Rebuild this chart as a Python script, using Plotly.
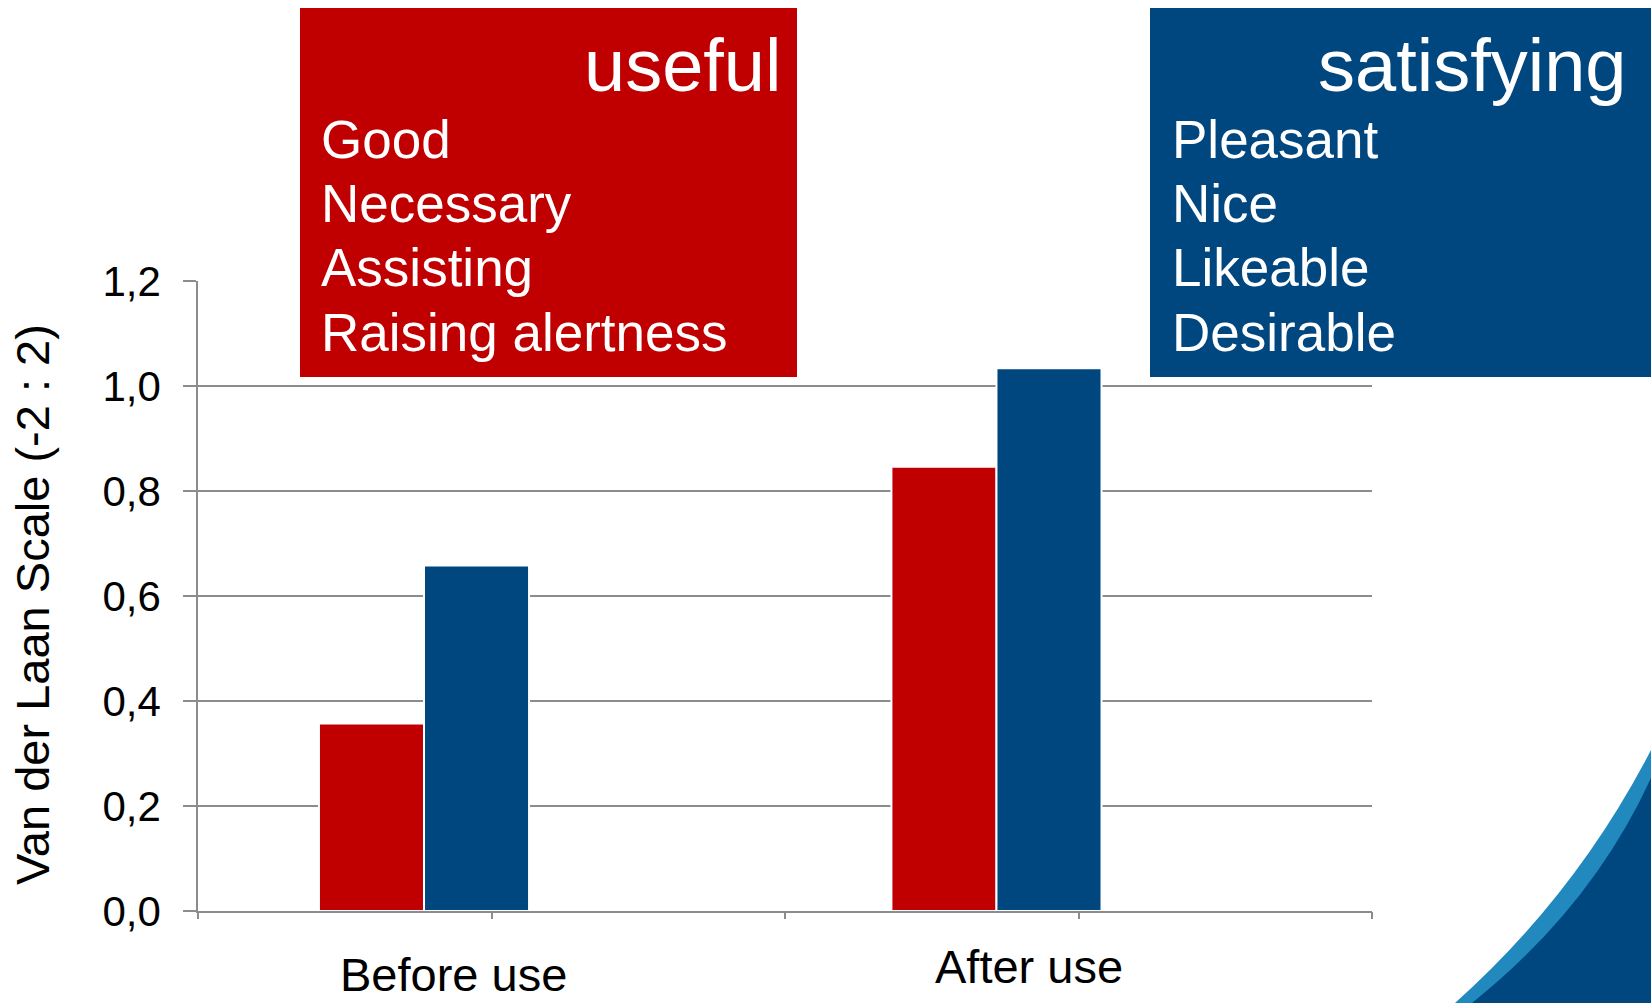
import plotly.graph_objects as go

# ---- data ----
categories = ["Before use", "After use"]
useful_vals = [0.357, 0.846]
satisfying_vals = [0.658, 1.034]
series_names = ["useful", "satisfying"]
useful_items = ["Good", "Necessary", "Assisting", "Raising alertness"]
satisfying_items = ["Pleasant", "Nice", "Likeable", "Desirable"]
y_tickvals = [0.0, 0.2, 0.4, 0.6, 0.8, 1.0, 1.2]
y_ticktext = ["0,0", "0,2", "0,4", "0,6", "0,8", "1,0", "1,2"]
y_title = "Van der Laan Scale (-2 : 2)"

RED = "#C00000"
BLUE = "#00467F"
GRID = "#8C8C8C"
FONT = "Liberation Sans, Arial, sans-serif"

W, H = 1651, 1003
PX0, PX1 = 198, 1372      # plot area in page pixels
PY0, PY1 = 281, 911
L, T = PX0, PY0
PW, PH = PX1 - PX0, PY1 - PY0
R, B = W - L - PW, H - T - PH


def fx(p):
    return (p - PX0) / PW


def fy(p):
    return (PY1 - p) / PH


fig = go.Figure()
fig.add_trace(go.Bar(x=categories, y=useful_vals, name=series_names[0],
                     marker=dict(color=RED, line=dict(color="white", width=2)),
                     showlegend=False))
fig.add_trace(go.Bar(x=categories, y=satisfying_vals, name=series_names[1],
                     marker=dict(color=BLUE, line=dict(color="white", width=2)),
                     showlegend=False))

fig.update_layout(
    width=W, height=H,
    margin=dict(l=L, r=R, t=T, b=B, pad=0),
    paper_bgcolor="white", plot_bgcolor="white",
    barmode="group", bargap=0.633, bargroupgap=0,
    font=dict(family=FONT, color="black"),
    xaxis=dict(range=[-0.3948, 1.656], showticklabels=False, showgrid=False,
               showline=True, linecolor=GRID, linewidth=1.5, ticks="",
               zeroline=False),
    xaxis2=dict(overlaying="x", range=[0, 4], tickmode="array",
                tickvals=[0, 1, 2, 3, 4], ticks="outside", ticklen=7,
                tickcolor=GRID, tickwidth=1.5, showticklabels=False,
                showgrid=False, zeroline=False, showline=False, side="bottom"),
    yaxis=dict(range=[0, 1.2], tickmode="array", tickvals=y_tickvals,
               ticktext=y_ticktext, showgrid=True, gridcolor=GRID, gridwidth=1.5,
               ticks="outside", ticklen=13, tickcolor=GRID, tickwidth=1.5,
               showline=True, linecolor=GRID, linewidth=1.5, zeroline=False,
               tickfont=dict(size=42, family=FONT, color="black"),
               ticklabelstandoff=14),
)

# empty trace so the overlay axis (category divider ticks) is drawn
fig.add_trace(go.Scatter(x=[], y=[], xaxis="x2", showlegend=False, hoverinfo="skip"))

# y-axis title
fig.add_annotation(text=y_title, xref="paper", yref="paper", x=fx(32), y=fy(605),
                   xanchor="center", yanchor="middle", textangle=-90, showarrow=False,
                   font=dict(size=47, family=FONT, color="black"))

# category labels
label_shift = [29, 33]
label_mid = [974, 967]
for c, s, m in zip(categories, label_shift, label_mid):
    fig.add_annotation(text=c, xref="x", yref="paper", x=c, y=fy(m), xshift=s,
                       xanchor="center", yanchor="middle", showarrow=False,
                       font=dict(size=47, family=FONT, color="black"))

# coloured boxes
fig.add_shape(type="rect", xref="paper", yref="paper", x0=fx(300), x1=fx(797),
              y0=fy(377), y1=fy(8), fillcolor=RED, line=dict(width=0), layer="above")
fig.add_shape(type="rect", xref="paper", yref="paper", x0=fx(1150), x1=fx(1660),
              y0=fy(377), y1=fy(8), fillcolor=BLUE, line=dict(width=0), layer="above")

# logo fragment bottom right
fig.add_shape(type="path", xref="paper", yref="paper",
              path=(f"M {fx(1651)},{fy(750)} Q {fx(1576)},{fy(895)} {fx(1455)},{fy(1003)} "
                    f"L {fx(1440)},{fy(1015)} L {fx(1665)},{fy(1015)} L {fx(1665)},{fy(750)} Z"),
              fillcolor="#2189BE", line=dict(width=0), layer="above")
fig.add_shape(type="path", xref="paper", yref="paper",
              path=(f"M {fx(1651)},{fy(778)} Q {fx(1592)},{fy(907)} {fx(1472)},{fy(1003)} "
                    f"L {fx(1457)},{fy(1015)} L {fx(1665)},{fy(1015)} L {fx(1665)},{fy(778)} Z"),
              fillcolor="#00467F", line=dict(width=0), layer="above")

# box titles
fig.add_annotation(text=series_names[0], xref="paper", yref="paper", x=fx(783), y=fy(65),
                   xanchor="right", yanchor="middle", showarrow=False,
                   font=dict(size=74, family=FONT, color="white"))
fig.add_annotation(text=series_names[1], xref="paper", yref="paper", x=fx(1628), y=fy(65),
                   xanchor="right", yanchor="middle", showarrow=False,
                   font=dict(size=74, family=FONT, color="white"))

baselines = [160, 223, 287, 352]
for items, left in ((useful_items, 319), (satisfying_items, 1170)):
    for t, b in zip(items, baselines):
        fig.add_annotation(text=t, xref="paper", yref="paper", x=fx(left), y=fy(b - 20),
                           xanchor="left", yanchor="middle", showarrow=False,
                           font=dict(size=53, family=FONT, color="white"))

fig.write_html("out.html", config={"displayModeBar": False},
               post_script="document.body.style.margin='0';")
